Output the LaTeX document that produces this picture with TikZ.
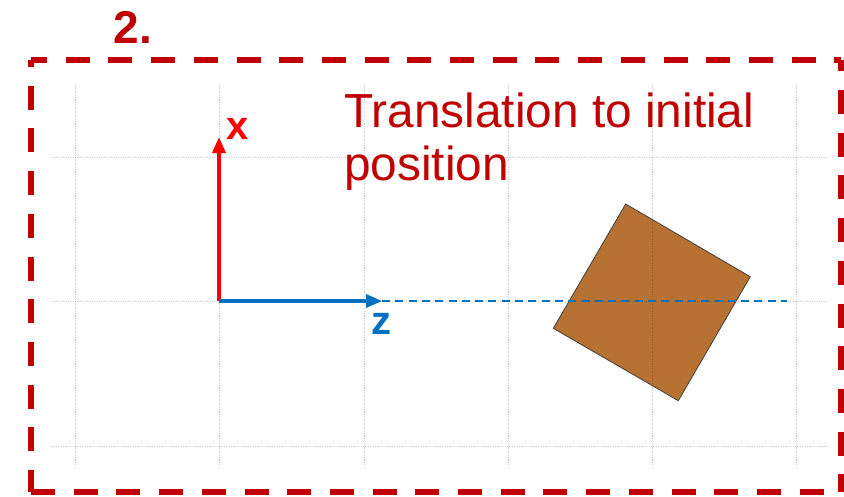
\documentclass[tikz,border=0pt]{standalone}
\usepackage{fontspec}
\setmainfont{Liberation Sans}
\usetikzlibrary{arrows.meta}
\definecolor{darkred}{HTML}{C00000}
\definecolor{axred}{HTML}{FF0000}
\definecolor{axblue}{HTML}{0070C0}
\definecolor{copper}{RGB}{183,114,51}
\tikzset{
  framedash/.style={draw=darkred, line width=6pt, dash pattern=on 24pt off 18.7pt},
  gridline/.style={draw=black, draw opacity=0.18, line width=0.8pt, dash pattern=on 1.2pt off 1.2pt},
  axisarrow/.style={line width=3.3pt, -{Triangle[width=13pt,length=16pt]}},
  axislabel/.style={inner sep=0pt, font=\bfseries\fontsize{40}{40}\selectfont},
}
\begin{document}
\begin{tikzpicture}[x=1pt,y=-1pt]
\useasboundingbox (0,0) rectangle (844,496);
% frame
\coordinate (ftl) at (31,59.5);
\coordinate (ftr) at (841,59.5);
\coordinate (fbl) at (31,492);
\coordinate (fbr) at (841,492);
\draw[framedash, dash phase=8pt] (ftl) -- (ftr);
\draw[framedash, dash phase=12.2pt] (ftr) -- (fbr);
\draw[framedash, dash phase=16.5pt] (ftl) -- (fbl);
\draw[framedash, dash phase=0pt] (fbl) -- (fbr);
% title
\node[anchor=base west, inner sep=0pt, text=darkred, font=\bfseries\fontsize{46}{46}\selectfont] (num) at (113.5,43.3) {2.};
% square
\filldraw[fill=copper, draw=black!75, line width=0.8pt]
  (625.7,204) -- (750.3,276.7) -- (678.3,400.7) -- (553.3,328.3) -- cycle;
% grid
\foreach \gx in {75,219.5,364,508,652,796.5}
  \draw[gridline] (\gx,85) -- (\gx,469);
\foreach \gy in {157.5,301,446.5}
  \draw[gridline] (51,\gy) -- (827,\gy);
% text
\node[anchor=north west, inner sep=0pt, align=left, text=darkred, font=\fontsize{47.8}{53.5}\selectfont] (title) at (344,92.5) {Translation to initial\\position};
% axes
\coordinate (O) at (219,301);
\coordinate (xtip) at (219,137);
\coordinate (ztip) at (382,301);
\coordinate (zend) at (787,301);
\draw[axblue, line width=2pt, dash pattern=on 8pt off 5.3pt] (ztip) -- (zend);
\draw[axisarrow, axred] (O) -- (xtip);
\draw[axisarrow, axblue] (O) -- (ztip);
\node[axislabel, text=axred] (xl) at (238,128.5) {x};
\node[axislabel, text=axblue] (zl) at (381,324) {z};
\end{tikzpicture}
\end{document}
